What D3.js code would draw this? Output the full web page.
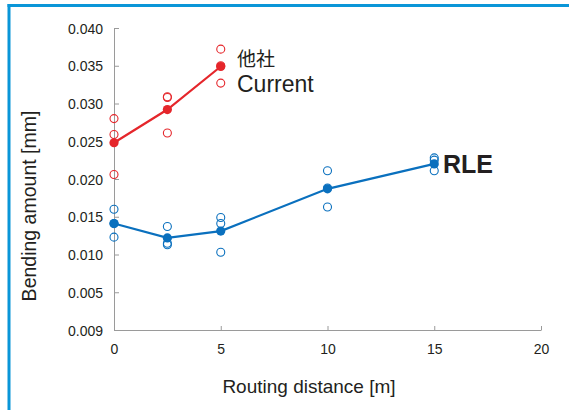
<!DOCTYPE html>
<html>
<head>
<meta charset="utf-8">
<script src="https://cdn.jsdelivr.net/npm/d3@7"></script>
<style>
  body { margin: 0; background: #fff; }
  svg { display: block; font-family: "Liberation Sans", Arial, sans-serif; }
</style>
</head>
<body>
<svg id="chart" width="569" height="410"></svg>
<script>
// ---- data ----
const distances = [0, 2.5, 5, 10, 15];

// other company ("Current"), individual samples and averages
const current_x = [0, 2.5, 5];
const current_samples = [
  [0.0280, 0.0259, 0.0206],
  [0.0309, 0.0308, 0.0261],
  [0.0372, 0.0350, 0.0327]
];
const current_mean = [0.0248, 0.0292, 0.0349];

// RLE, individual samples and averages
const rle_x = [0, 2.5, 5, 10, 15];
const rle_samples = [
  [0.0160, 0.0141, 0.0123],
  [0.0137, 0.0115, 0.0113],
  [0.0149, 0.0141, 0.0103],
  [0.0211, 0.0188, 0.0163],
  [0.0228, 0.0225, 0.0211]
];
const rle_mean = [0.0141, 0.0122, 0.0131, 0.0187, 0.0220];

const y_ticks = [0, 0.005, 0.010, 0.015, 0.020, 0.025, 0.030, 0.035, 0.040];
const y_tick_labels = ["0.009", "0.005", "0.010", "0.015", "0.020", "0.025", "0.030", "0.035", "0.040"];
const x_ticks = [0, 5, 10, 15, 20];

const red = "#e5262b";
const blue = "#0a70be";
const frame_color = "#0a96d8";
const text_color = "#231f20";
const axis_color = "#9a9a9a";

const svg = d3.select("#chart");

// ---- frame ----
svg.append("line")
  .attr("x1", 7.5).attr("x2", 569)
  .attr("y1", 5.5).attr("y2", 5.5)
  .attr("stroke", frame_color).attr("stroke-width", 3);
svg.append("line")
  .attr("x1", 9).attr("x2", 9)
  .attr("y1", 4).attr("y2", 410)
  .attr("stroke", frame_color).attr("stroke-width", 3);

// ---- scales ----
const x = d3.scaleLinear().domain([0, 20]).range([114, 541]);
const y = d3.scaleLinear().domain([0, 0.04]).range([330, 28]);

// ---- axes ----
const y_axis = svg.append("g")
  .attr("transform", "translate(114,0)")
  .call(d3.axisLeft(y)
    .tickValues(y_ticks)
    .tickFormat((d, i) => y_tick_labels[i])
    .tickSizeInner(-5)
    .tickSizeOuter(0)
    .tickPadding(11));

const x_axis = svg.append("g")
  .attr("transform", "translate(0,330)")
  .call(d3.axisBottom(x)
    .tickValues(x_ticks)
    .tickFormat(d3.format("d"))
    .tickSizeInner(-4)
    .tickSizeOuter(0)
    .tickPadding(14));

[y_axis, x_axis].forEach(a => {
  a.select(".domain").attr("stroke", axis_color);
  a.selectAll(".tick line").attr("stroke", axis_color);
  a.selectAll(".tick text")
    .attr("fill", text_color)
    .style("font-size", "14px")
    .style("font-family", "'Liberation Sans', Arial, sans-serif");
});
y_axis.selectAll(".tick text").attr("dy", "0.36em");

// axis titles
svg.append("text")
  .attr("transform", "translate(36,206) rotate(-90)")
  .attr("text-anchor", "middle")
  .attr("fill", text_color)
  .style("font-size", "19.5px")
  .text("Bending amount [mm]");

svg.append("text")
  .attr("x", 309).attr("y", 393)
  .attr("text-anchor", "middle")
  .attr("fill", text_color)
  .style("font-size", "19px")
  .text("Routing distance [m]");

// ---- series ----
const line = d3.line()
  .x(d => x(d[0]))
  .y(d => y(d[1]));

function draw_series(xs, samples, means, color) {
  const g = svg.append("g");
  g.append("path")
    .attr("d", line(xs.map((d, i) => [d, means[i]])))
    .attr("fill", "none")
    .attr("stroke", color)
    .attr("stroke-width", 2.2);

  const pts = [];
  xs.forEach((d, i) => samples[i].forEach(v => pts.push([d, v])));
  g.selectAll("circle.sample")
    .data(pts)
    .join("circle")
    .attr("class", "sample")
    .attr("cx", d => x(d[0]))
    .attr("cy", d => y(d[1]))
    .attr("r", 4)
    .attr("fill", "none")
    .attr("stroke", color)
    .attr("stroke-width", 1.1);

  g.selectAll("circle.mean")
    .data(xs.map((d, i) => [d, means[i]]))
    .join("circle")
    .attr("class", "mean")
    .attr("cx", d => x(d[0]))
    .attr("cy", d => y(d[1]))
    .attr("r", 4.6)
    .attr("fill", color);
}

draw_series(current_x, current_samples, current_mean, red);
draw_series(rle_x, rle_samples, rle_mean, blue);

// ---- series labels ----
svg.append("text")
  .attr("x", 237).attr("y", 66)
  .attr("fill", text_color)
  .style("font-family", "'Noto Sans CJK JP', sans-serif")
  .style("font-size", "19px")
  .text("他社");

svg.append("text")
  .attr("x", 237).attr("y", 92)
  .attr("fill", text_color)
  .style("font-size", "23px")
  .text("Current");

svg.append("text")
  .attr("x", 443).attr("y", 173)
  .attr("fill", text_color)
  .style("font-size", "25px")
  .style("font-weight", "bold")
  .text("RLE");
</script>
</body>
</html>
